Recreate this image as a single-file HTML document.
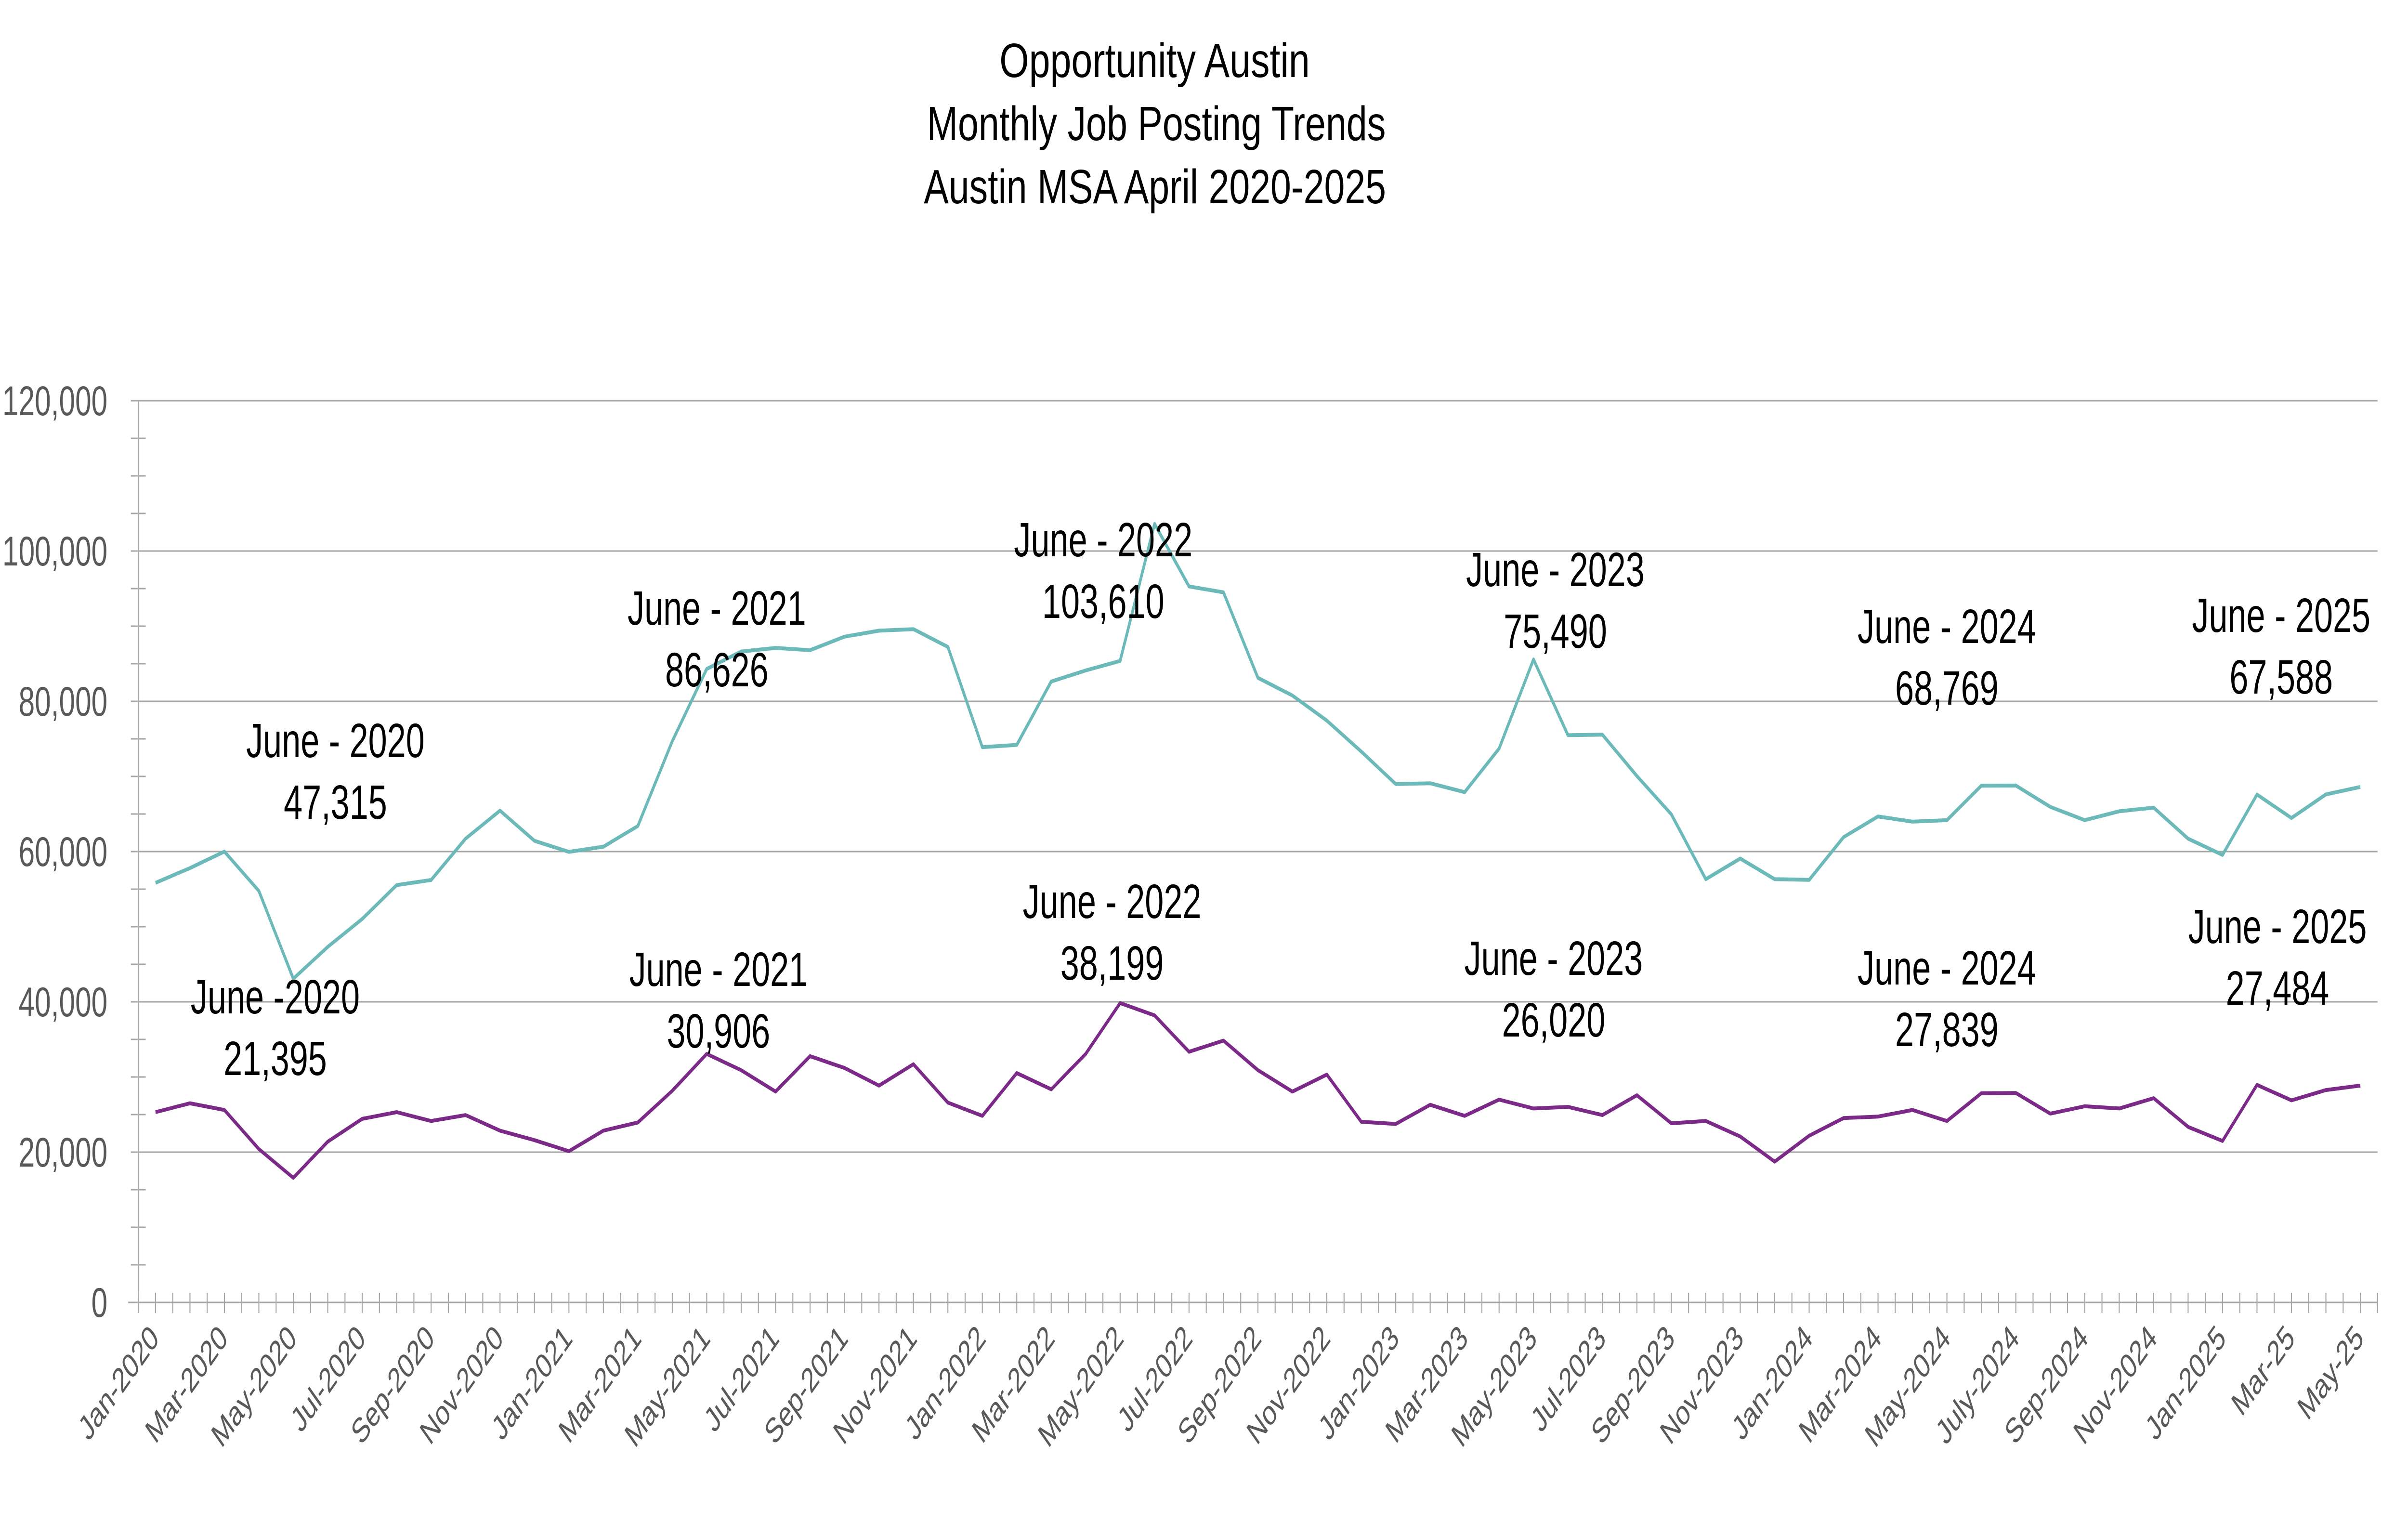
<!DOCTYPE html>
<html><head><meta charset="utf-8"><style>
html,body{margin:0;padding:0;background:#fff;width:100%;height:100%;overflow:hidden;}
svg{display:block;font-family:"Liberation Sans",sans-serif;width:100vw;height:100vh;}
</style></head><body>
<svg id="chart" viewBox="0 0 7122 3162" preserveAspectRatio="none" xmlns="http://www.w3.org/2000/svg">
<g font-size="100" text-anchor="middle" fill="#000">
<text x="3415" y="160" textLength="918" lengthAdjust="spacingAndGlyphs">Opportunity Austin</text>
<text x="3420" y="291" textLength="1357" lengthAdjust="spacingAndGlyphs">Monthly Job Posting Trends</text>
<text x="3416" y="422" textLength="1367" lengthAdjust="spacingAndGlyphs">Austin MSA April 2020-2025</text>
</g>
<g id="grid"></g>
<g id="yaxis"></g>
<g id="xaxis"></g>
<g id="series"></g>
<g id="annots"></g>
</svg>
<script>
const categories = ["Jan-2020","Feb-2020","Mar-2020","Apr-2020","May-2020","Jun-2020","Jul-2020","Aug-2020","Sep-2020","Oct-2020","Nov-2020","Dec-2020",
"Jan-2021","Feb-2021","Mar-2021","Apr-2021","May-2021","Jun-2021","Jul-2021","Aug-2021","Sep-2021","Oct-2021","Nov-2021","Dec-2021",
"Jan-2022","Feb-2022","Mar-2022","Apr-2022","May-2022","Jun-2022","Jul-2022","Aug-2022","Sep-2022","Oct-2022","Nov-2022","Dec-2022",
"Jan-2023","Feb-2023","Mar-2023","Apr-2023","May-2023","Jun-2023","Jul-2023","Aug-2023","Sep-2023","Oct-2023","Nov-2023","Dec-2023",
"Jan-2024","Feb-2024","Mar-2024","Apr-2024","May-2024","Jun-2024","July-2024","Aug-2024","Sep-2024","Oct-2024","Nov-2024","Dec-2024",
"Jan-2025","Feb-25","Mar-25","Apr-25","May-25"];
const totalPostings = [55840,57800,60000,54760,43080,47315,51030,55540,56220,61720,65450,61430,
59960,60650,63400,74680,84300,86626,87100,86800,88600,89400,89600,87240,
73900,74200,82630,84100,85370,103610,95290,94500,83120,80770,77430,73310,
68990,69090,67910,73700,85570,75490,75560,70060,64960,56330,59070,56330,
56230,61920,64670,63980,64180,68769,68790,65950,64180,65360,65850,61720,
59560,67588,64470,67610,68600];
const uniquePostings = [25320,26500,25610,20410,16580,21395,24430,25320,24140,24930,22860,21590,
20120,22860,23940,28160,33070,30906,28060,32770,31200,28850,31700,26590,
24830,30520,28360,33070,39840,38199,33360,34840,30910,28060,30320,24040,
23750,26300,24830,26990,25810,26020,24930,27570,23840,24140,22080,18740,
22180,24530,24730,25610,24140,27839,27870,25120,26100,25810,27180,23360,
21490,28950,26890,28260,28850];
const yTicks = [0,20000,40000,60000,80000,100000,120000];
const yTickLabels = ["0","20,000","40,000","60,000","80,000","100,000","120,000"];
const annotTitles = ["June - 2020","June - 2021","June - 2022","June - 2023","June  - 2024","June - 2025"];
const annotTealValues = ["47,315","86,626","103,610","75,490","68,769","67,588"];
const annotPurpleTitles = ["June -2020","June - 2021","June - 2022","June - 2023","June - 2024","June - 2025"];
const annotPurpleValues = ["21,395","30,906","38,199","26,020","27,839","27,484"];

const NS="http://www.w3.org/2000/svg";
const L=409,R=7032,T=832,B=2704,YMAX=120000;
const step=(R-L)/categories.length;
const X=i=>L+step*(i+0.5);
const Y=v=>B-(v/YMAX)*(B-T);
function mk(tag,attrs,parent){const e=document.createElementNS(NS,tag);for(const k in attrs)e.setAttribute(k,attrs[k]);parent.appendChild(e);return e;}
const grid=document.getElementById('grid'),yax=document.getElementById('yaxis'),xax=document.getElementById('xaxis'),ser=document.getElementById('series'),ann=document.getElementById('annots');
yTicks.forEach((v,k)=>{
  if(v>0){const g=mk('line',{x1:L,x2:R,y1:Y(v),y2:Y(v),stroke:'#a6a6a6','stroke-width':3},grid);
  
  }
  const t=mk('text',{x:318,y:Y(v)+30,'text-anchor':'end','font-size':86,fill:'#595959'},yax);
  t.textContent=yTickLabels[k];
  
  
});
for(let v=0;v<=YMAX;v+=5000){const tk=mk('line',{x1:L-22,x2:L+22,y1:Y(v),y2:Y(v),stroke:'#a6a6a6','stroke-width':3},yax);
  
  }
const ya=mk('line',{x1:L,x2:L,y1:T,y2:B,stroke:'#a6a6a6','stroke-width':3},yax);


const xa=mk('line',{x1:L-30,x2:R,y1:B,y2:B,stroke:'#a6a6a6','stroke-width':3},xax);


for(let h=0;h<=categories.length*2;h++){const x=L+step*h/2;const tk=mk('line',{x1:x,x2:x,y1:B-20,y2:B+22,stroke:'#a6a6a6','stroke-width':3},xax);
  
  }
categories.forEach((c,i)=>{if(i%2)return;const x=X(i)+14,y=2782;
  const t=mk('text',{x:x,y:y,'text-anchor':'end','font-size':72,fill:'#595959',transform:`rotate(-45 ${x} ${y})`},xax);
  t.textContent=c;
  
  });
function line(vals,color,name){const p=mk('polyline',{points:vals.map((v,i)=>X(i).toFixed(1)+','+Y(v).toFixed(1)).join(' '),fill:'none',stroke:color,'stroke-width':8,'stroke-linejoin':'round'},ser);
  
  }
line(totalPostings,'#6cb9ba','total-postings-line');
line(uniquePostings,'#7b2a88','unique-postings-line');
const tealPos=[[992,1572],[2120,1297],[3263,1155],[4600,1217],[5758,1335],[6747,1312]];
const purplePos=[[814,2104],[2125,2047],[3289,1906],[4595,2024],[5758,2044],[6736,1958]];
function annot(pos,t1,t2,name){const g=mk('g',{},ann);
  
  
  const a=mk('text',{x:pos[0],y:pos[1],'text-anchor':'middle','font-size':100,fill:'#000'},g);a.textContent=t1;a.setAttribute('xml:space','preserve');
  const b=mk('text',{x:pos[0],y:pos[1]+128,'text-anchor':'middle','font-size':100,fill:'#000'},g);b.textContent=t2;}
tealPos.forEach((p,k)=>annot(p,annotTitles[k],annotTealValues[k],'total-annotation'));
purplePos.forEach((p,k)=>annot(p,annotPurpleTitles[k],annotPurpleValues[k],'unique-annotation'));
</script>
</body></html>
